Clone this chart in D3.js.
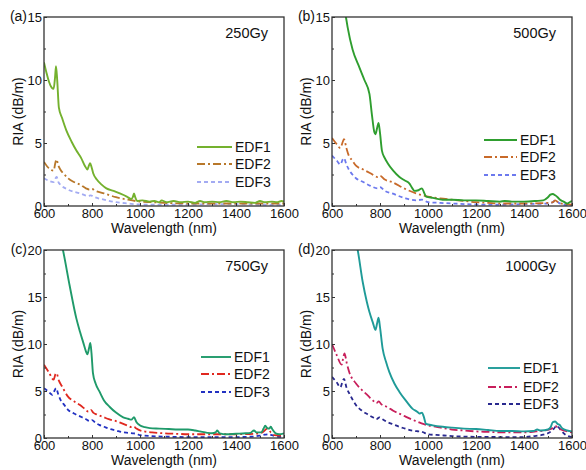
<!DOCTYPE html>
<html>
<head>
<meta charset="utf-8">
<script src="https://cdn.jsdelivr.net/npm/d3@7"></script>
<style>
  body { margin: 0; background: #fff; }
  svg { font-family: "Liberation Sans", Arial, sans-serif; }
</style>
</head>
<body>
<script>
// data: [wavelength (nm), RIA (dB/m)] per fibre and per dose
var a_EDF1 = [[600,11.4],[610,10.6],[620,9.9],[632,9.4],[640,9.3],[646,10.2],[650,11.1],[655,10.0],[662,7.8],[675,7.0],[693,6.0],[715,5.1],[735,4.4],[755,3.8],[770,3.2],[781,2.9],[787,3.2],[792,3.4],[798,3.1],[805,2.6],[820,2.1],[840,1.7],[860,1.4],[890,1.2],[916,1.0],[945,0.75],[964,0.55],[970,0.7],[975,1.0],[980,0.7],[988,0.4],[1010,0.45],[1040,0.35],[1060,0.4],[1080,0.3],[1090,0.45],[1110,0.3],[1140,0.4],[1170,0.3],[1200,0.35],[1230,0.25],[1250,0.4],[1270,0.3],[1300,0.35],[1330,0.3],[1360,0.4],[1390,0.3],[1420,0.35],[1450,0.3],[1480,0.25],[1500,0.4],[1520,0.3],[1550,0.35],[1570,0.3],[1590,0.4],[1600,0.35]];
var a_EDF2 = [[600,3.5],[620,3.0],[640,2.8],[648,3.5],[652,3.7],[660,3.2],[668,2.9],[685,2.5],[700,2.2],[725,1.9],[750,1.7],[775,1.4],[790,1.3],[800,1.35],[815,1.2],[850,1.0],[900,0.7],[950,0.5],[1000,0.35],[1050,0.3],[1100,0.25],[1200,0.2],[1300,0.2],[1400,0.2],[1500,0.2],[1600,0.2]];
var a_EDF3 = [[600,2.2],[620,2.0],[640,1.9],[648,2.2],[653,2.3],[660,1.9],[668,1.7],[700,1.3],[750,1.0],[785,0.8],[795,0.85],[805,0.75],[850,0.5],[900,0.3],[950,0.2],[1000,0.12],[1100,0.1],[1200,0.1],[1300,0.15],[1400,0.15],[1500,0.1],[1600,0.1]];

var b_EDF1 = [[600,21],[630,18],[658,15],[665,14.2],[686,12.4],[714,11.0],[735,10.0],[756,8.9],[766,7.3],[776,5.9],[781,5.7],[788,6.2],[794,6.6],[800,5.8],[808,4.4],[820,3.8],[832,3.4],[855,2.8],[881,2.3],[905,2.0],[922,1.8],[935,1.4],[943,1.2],[960,1.25],[975,1.4],[985,1.0],[992,0.75],[1020,0.65],[1061,0.5],[1100,0.5],[1150,0.45],[1200,0.45],[1250,0.4],[1300,0.35],[1320,0.4],[1350,0.35],[1400,0.35],[1450,0.4],[1480,0.45],[1500,0.7],[1510,0.9],[1520,0.95],[1530,0.85],[1540,0.7],[1550,0.5],[1565,0.35],[1580,0.2],[1590,0.3],[1600,0.4]];
var b_EDF2 = [[600,5.4],[620,4.9],[635,4.6],[645,5.1],[650,5.3],[660,4.6],[670,4.0],[685,3.6],[700,3.2],[730,2.9],[760,2.6],[790,2.3],[800,2.4],[820,2.1],[850,1.9],[900,1.4],[950,1.0],[1000,0.75],[1050,0.6],[1100,0.5],[1150,0.4],[1200,0.3],[1250,0.25],[1300,0.2],[1400,0.2],[1500,0.25],[1520,0.3],[1530,0.45],[1545,0.25],[1570,0.15],[1600,0.1]];
var b_EDF3 = [[600,4.0],[620,3.6],[635,3.3],[645,3.7],[650,3.8],[660,3.3],[670,2.9],[685,2.5],[700,2.2],[730,1.9],[760,1.6],[790,1.4],[800,1.5],[820,1.2],[850,1.0],[900,0.65],[950,0.45],[975,0.5],[1000,0.3],[1050,0.25],[1100,0.2],[1200,0.12],[1300,0.1],[1400,0.15],[1500,0.2],[1520,0.3],[1530,0.45],[1545,0.25],[1570,0.1],[1600,0.05]];

var c_EDF1 = [[600,28],[640,24],[679,20],[707,16.2],[735,12.7],[750,11.3],[763,10.2],[775,9.2],[781,8.9],[788,9.6],[793,10.1],[798,9.0],[804,6.9],[815,5.8],[832,4.9],[850,4.0],[874,3.3],[900,2.7],[930,2.2],[950,2.05],[964,1.95],[975,2.2],[985,1.7],[999,1.35],[1020,1.15],[1041,1.05],[1080,1.0],[1120,0.95],[1160,0.9],[1200,0.9],[1230,0.8],[1250,0.7],[1280,0.55],[1300,0.5],[1315,0.6],[1322,0.8],[1332,0.5],[1360,0.4],[1400,0.45],[1440,0.5],[1460,0.55],[1475,0.8],[1485,0.6],[1505,0.6],[1515,1.0],[1522,1.3],[1530,1.05],[1538,1.0],[1545,1.2],[1552,0.9],[1565,0.5],[1580,0.4],[1600,0.5]];
var c_EDF2 = [[600,7.8],[620,7.0],[640,6.2],[648,6.8],[652,6.9],[662,6.1],[675,5.5],[700,4.4],[725,3.9],[750,3.5],[770,3.1],[785,2.8],[795,3.0],[805,2.7],[820,2.5],[850,2.2],[870,2.0],[900,1.8],[920,1.6],[950,1.3],[965,1.15],[975,1.2],[985,1.0],[1000,0.8],[1050,0.6],[1100,0.5],[1150,0.45],[1200,0.4],[1300,0.4],[1400,0.4],[1480,0.45],[1510,0.6],[1530,1.0],[1545,0.6],[1560,0.3],[1580,0.25],[1600,0.3]];
var c_EDF3 = [[600,5.3],[620,4.9],[635,4.6],[645,5.1],[650,5.3],[660,4.6],[670,4.0],[685,3.5],[700,3.0],[725,2.6],[750,2.3],[775,2.0],[790,1.8],[800,1.9],[815,1.6],[830,1.4],[850,1.2],[870,1.0],[900,0.8],[930,0.6],[950,0.55],[970,0.5],[985,0.45],[1000,0.3],[1050,0.2],[1100,0.15],[1200,0.1],[1300,0.1],[1400,0.1],[1470,0.15],[1500,0.25],[1520,0.35],[1535,0.4],[1550,0.3],[1570,0.15],[1600,0.1]];

var d_EDF1 = [[600,34],[650,26],[680,22.5],[707,20],[728,16.6],[745,14.5],[756,13.4],[770,12.3],[781,11.5],[788,12.2],[794,12.8],[800,11.8],[811,9.5],[825,8.1],[839,7.0],[860,5.8],[881,4.9],[910,3.9],[936,3.1],[955,2.8],[964,2.6],[975,2.7],[982,2.3],[992,1.5],[1020,1.35],[1061,1.2],[1100,1.1],[1150,1.0],[1200,0.95],[1250,0.85],[1300,0.75],[1350,0.75],[1400,0.7],[1440,0.75],[1455,0.9],[1470,0.8],[1500,0.9],[1512,1.2],[1520,1.7],[1530,1.75],[1540,1.5],[1548,1.4],[1560,1.0],[1580,0.8],[1600,0.7]];
var d_EDF2 = [[600,10.0],[620,8.8],[640,7.8],[648,8.7],[652,9.0],[662,7.9],[672,7.0],[700,5.8],[725,5.1],[750,4.5],[770,4.0],[785,3.7],[795,3.9],[805,3.6],[830,3.3],[855,2.9],[880,2.6],[905,2.3],[930,2.0],[955,1.75],[980,1.5],[1000,1.35],[1030,1.2],[1065,1.05],[1100,0.9],[1150,0.8],[1200,0.7],[1250,0.65],[1300,0.6],[1350,0.6],[1400,0.6],[1450,0.7],[1490,0.8],[1515,1.0],[1532,1.25],[1545,1.0],[1565,0.8],[1600,0.6]];
var d_EDF3 = [[600,6.5],[620,5.9],[635,5.4],[645,6.1],[650,6.3],[660,5.4],[675,4.6],[700,3.5],[725,2.9],[750,2.5],[770,2.2],[785,2.0],[798,2.2],[810,2.0],[830,1.7],[855,1.45],[880,1.2],[905,1.0],[930,0.8],[955,0.72],[970,0.7],[985,0.55],[1000,0.4],[1050,0.3],[1100,0.2],[1150,0.15],[1200,0.12],[1300,0.1],[1350,0.08],[1400,0.1],[1440,0.2],[1480,0.35],[1510,0.65],[1525,1.0],[1535,1.3],[1545,1.1],[1555,0.8],[1570,0.4],[1585,0.2],[1600,0.1]];

var seriesNames = ["EDF1", "EDF2", "EDF3"];
var xTicks = [600, 800, 1000, 1200, 1400, 1600];
var panelLabels = ["(a)", "(b)", "(c)", "(d)"];
var doses = ["250Gy", "500Gy", "750Gy", "1000Gy"];
var yMax = [15, 15, 20, 20];

// layout van de vier panelen
var panels = [
    { left: 44, top: 17, width: 240, height: 189, data: [a_EDF1, a_EDF2, a_EDF3],
      colors: ["#74b12e", "#b8782a", "#a3abf2"], leg: { x1: 153, x2: 188, y: [130, 147, 165] } },
    { left: 332, top: 17, width: 240, height: 189, data: [b_EDF1, b_EDF2, b_EDF3],
      colors: ["#2f9e2f", "#c86a2a", "#6c79ee"], leg: { x1: 152, x2: 185, y: [123, 140, 158] } },
    { left: 44, top: 250, width: 240, height: 188, data: [c_EDF1, c_EDF2, c_EDF3],
      colors: ["#1f9a6a", "#e0281f", "#2231c2"], leg: { x1: 157, x2: 187, y: [107, 124, 142] } },
    { left: 332, top: 250, width: 240, height: 188, data: [d_EDF1, d_EDF2, d_EDF3],
      colors: ["#1f9b98", "#c81f5b", "#29298f"], leg: { x1: 156, x2: 188, y: [118, 137, 154] } }
];

var dashes = [null, "8,3,2,3", "4,3"];
var widths = [1.9, 1.8, 1.8];

var svg = d3.select("body").append("svg")
    .attr("width", 586)
    .attr("height", 470);

panels.forEach(function (p, i) {
    var g = svg.append("g")
        .attr("transform", "translate(" + p.left + "," + p.top + ")");

    var x = d3.scaleLinear().domain([600, 1600]).range([0, p.width]);
    var y = d3.scaleLinear().domain([0, yMax[i]]).range([p.height, 0]);

    g.append("clipPath").attr("id", "clip" + i)
        .append("rect").attr("width", p.width).attr("height", p.height);

    var line = d3.line()
        .x(function (d) { return x(d[0]); })
        .y(function (d) { return y(d[1]); })
        .curve(d3.curveMonotoneX);

    // lijnen, EDF3 onderaan
    var lines = g.append("g").attr("clip-path", "url(#clip" + i + ")");
    [2, 1, 0].forEach(function (k) {
        lines.append("path")
            .datum(p.data[k])
            .attr("fill", "none")
            .attr("stroke", p.colors[k])
            .attr("stroke-width", widths[k])
            .attr("stroke-dasharray", dashes[k])
            .attr("d", line);
    });

    // assen met ticks naar binnen
    var xAxis = g.append("g")
        .attr("transform", "translate(0," + p.height + ")")
        .call(d3.axisBottom(x).tickValues(xTicks).tickFormat(d3.format("d"))
            .tickSizeInner(-3).tickSizeOuter(0).tickPadding(4));
    g.append("g")
        .attr("transform", "translate(0," + p.height + ")")
        .call(d3.axisBottom(x).tickValues(d3.range(700, 1600, 200)).tickSizeInner(-2).tickSizeOuter(0).tickFormat(""));
    g.append("g")
        .call(d3.axisLeft(y).tickValues(d3.range(0, yMax[i] + 1, 5)).tickFormat(d3.format("d"))
            .tickSizeInner(-3).tickSizeOuter(0).tickPadding(2));
    g.append("g")
        .call(d3.axisLeft(y).tickValues(d3.range(2.5, yMax[i], 5)).tickSizeInner(-2).tickSizeOuter(0).tickFormat(""));

    g.selectAll(".domain").remove();
    g.selectAll(".tick line").attr("stroke", "#333");
    g.selectAll(".tick text").attr("font-size", 13).attr("fill", "#111").attr("font-family", null);
    xAxis.selectAll(".tick text").attr("dy", "0.6em");

    // kader
    g.append("rect")
        .attr("width", p.width)
        .attr("height", p.height)
        .attr("fill", "none")
        .attr("stroke", "#333")
        .attr("stroke-width", 1.3);

    g.append("text")
        .attr("x", p.width / 2)
        .attr("y", p.height + 27)
        .attr("text-anchor", "middle")
        .attr("font-size", 14)
        .attr("fill", "#111")
        .text("Wavelength (nm)");

    g.append("text")
        .attr("transform", "translate(-21," + p.height / 2 + ") rotate(-90)")
        .attr("text-anchor", "middle")
        .attr("font-size", 14)
        .attr("fill", "#111")
        .text("RIA (dB/m)");

    g.append("text")
        .attr("x", -17)
        .attr("y", 0)
        .attr("dy", "0.32em")
        .attr("text-anchor", "end")
        .attr("font-size", 14)
        .attr("fill", "#111")
        .text(panelLabels[i]);

    g.append("text")
        .attr("x", p.width - 16)
        .attr("y", 21)
        .attr("text-anchor", "end")
        .attr("font-size", 14.5)
        .attr("fill", "#111")
        .text(doses[i]);

    // legenda
    var leg = g.append("g").selectAll("g")
        .data(seriesNames)
        .enter().append("g")
        .attr("transform", function (d, k) { return "translate(0," + p.leg.y[k] + ")"; });

    leg.append("line")
        .attr("x1", p.leg.x1)
        .attr("x2", p.leg.x2)
        .attr("stroke", function (d, k) { return p.colors[k]; })
        .attr("stroke-width", function (d, k) { return widths[k]; })
        .attr("stroke-dasharray", function (d, k) { return dashes[k]; });

    leg.append("text")
        .attr("x", p.leg.x2 + 3)
        .attr("dy", "0.35em")
        .attr("font-size", 14)
        .attr("fill", "#111")
        .text(function (d) { return d; });
});
</script>
</body>
</html>
